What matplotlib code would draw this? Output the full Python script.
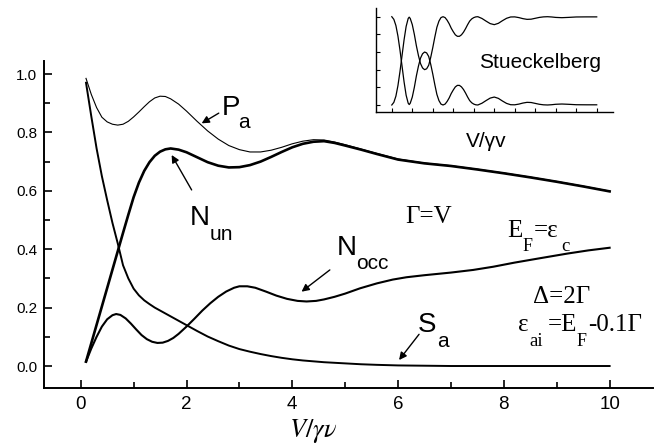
import matplotlib
matplotlib.use('Agg')
import matplotlib.pyplot as plt

plt.rcParams['font.family'] = ['Liberation Sans', 'DejaVu Sans']

# main curves, values
v = [0.1, 0.2, 0.3, 0.4, 0.5, 0.6, 0.7, 0.8, 0.9, 1.0, 1.1, 1.2, 1.3, 1.4, 1.5,
     1.6, 1.7, 1.85, 2.0,
     2.2, 2.4, 2.6, 2.8, 3.0, 3.2, 3.4, 3.6, 3.8, 4.0, 4.2, 4.4, 4.6, 4.8, 5.0,
     5.3, 5.6, 6.0, 6.5, 7.0, 7.5, 8.0, 8.5, 9.0, 9.5, 10.0]
p_a = [0.985, 0.93, 0.885, 0.852, 0.836, 0.828, 0.825, 0.828, 0.838, 0.853, 0.87, 0.888, 0.905, 0.918, 0.924,
       0.923, 0.915, 0.897, 0.873,
       0.838, 0.805, 0.777, 0.755, 0.741, 0.733, 0.733, 0.739, 0.749, 0.761, 0.77, 0.775, 0.774, 0.767, 0.758,
       0.743, 0.728, 0.709, 0.695, 0.686, 0.674, 0.661, 0.647, 0.632, 0.616, 0.599]
n_un = [0.015, 0.078, 0.141, 0.204, 0.267, 0.33, 0.393, 0.456, 0.518, 0.578, 0.628, 0.668, 0.698, 0.72, 0.734,
        0.742, 0.745, 0.741, 0.732,
        0.715, 0.698, 0.686, 0.68, 0.681, 0.688, 0.70, 0.716, 0.733, 0.749, 0.761, 0.768, 0.77, 0.764, 0.755,
        0.741, 0.726, 0.707, 0.694, 0.685, 0.673, 0.66, 0.646, 0.631, 0.615, 0.598]
s_a = [0.97, 0.855, 0.745, 0.65, 0.568, 0.49, 0.42, 0.345, 0.30, 0.265, 0.242, 0.225, 0.212, 0.20, 0.19,
       0.18, 0.17, 0.155, 0.14,
       0.12, 0.101, 0.085, 0.07, 0.058, 0.049, 0.041, 0.034, 0.028, 0.023, 0.019, 0.016, 0.013, 0.011, 0.009,
       0.006, 0.004, 0.002, 0.001, 0.0, 0.0, 0.0, 0.0, 0.0, 0.0, 0.0]

v_occ = [0.1, 0.2, 0.3, 0.4, 0.5, 0.6, 0.67, 0.75, 0.85, 0.95, 1.05, 1.15, 1.25, 1.35, 1.45,
         1.55, 1.65, 1.75, 1.85, 2.0, 2.15, 2.3, 2.45, 2.6, 2.75, 2.9, 3.0, 3.15, 3.3, 3.5,
         3.7, 3.9, 4.1, 4.27, 4.45, 4.6, 4.8, 5.0, 5.28, 5.6, 5.9, 6.16, 6.5, 7.0, 7.42,
         7.8, 8.2, 8.68, 9.2, 9.6, 10.0]
n_occ = [0.015, 0.06, 0.10, 0.135, 0.16, 0.174, 0.178, 0.175, 0.163, 0.145, 0.125, 0.106, 0.092, 0.083, 0.079,
         0.08, 0.086, 0.096, 0.11, 0.135, 0.162, 0.19, 0.215, 0.237, 0.255, 0.268, 0.273, 0.273, 0.268, 0.255,
         0.241, 0.23, 0.223, 0.221, 0.223, 0.228, 0.237, 0.248, 0.266, 0.283, 0.296, 0.304, 0.311, 0.32, 0.329,
         0.34, 0.354, 0.369, 0.385, 0.396, 0.405]

# inset (Stueckelberg oscillations)
v_in = [0, 0.1, 0.2, 0.3, 0.4, 0.5, 0.6, 0.7, 0.8, 0.85, 0.9, 1.0, 1.1, 1.2, 1.3, 1.4, 1.5, 1.6,
        1.7, 1.8, 1.9, 2.0, 2.1, 2.2, 2.3, 2.4, 2.5, 2.6, 2.7, 2.8, 2.9, 3.0, 3.1, 3.2, 3.3, 3.4,
        3.5, 3.6, 3.7, 3.8, 3.9, 4.0, 4.1, 4.2, 4.4, 4.6, 4.8, 5.0, 5.2, 5.4, 5.6, 5.8, 6.0, 6.2,
        6.4, 6.6, 6.8, 7.0, 7.2, 7.4, 7.6, 7.8, 8.0, 8.3, 8.6, 9.0, 9.5, 10.0]
st_a = [1.0, 0.97, 0.9, 0.78, 0.62, 0.44, 0.26, 0.11, 0.02, 0.005, 0.02, 0.09, 0.2, 0.33, 0.44, 0.53, 0.58, 0.6,
        0.59, 0.55, 0.46, 0.35, 0.23, 0.12, 0.05, 0.01, 0.0, 0.01, 0.04, 0.08, 0.13, 0.17, 0.205, 0.222, 0.222, 0.205,
        0.175, 0.135, 0.09, 0.05, 0.025, 0.01, 0.002, 0.0, 0.02, 0.05, 0.078, 0.09, 0.075, 0.045, 0.018, 0.003, 0.002, 0.01,
        0.022, 0.03, 0.028, 0.018, 0.008, 0.002, 0.0, 0.003, 0.008, 0.011, 0.008, 0.003, 0.002, 0.002]
st_b = [0.0, 0.03, 0.1, 0.22, 0.38, 0.56, 0.74, 0.89, 0.98, 0.995, 0.98, 0.91, 0.8, 0.67, 0.56, 0.47, 0.42, 0.4,
        0.41, 0.45, 0.54, 0.65, 0.77, 0.88, 0.95, 0.99, 1.0, 0.99, 0.96, 0.92, 0.87, 0.83, 0.795, 0.778, 0.778, 0.795,
        0.825, 0.865, 0.91, 0.95, 0.975, 0.99, 0.998, 1.0, 0.98, 0.95, 0.922, 0.91, 0.925, 0.955, 0.982, 0.997, 0.998, 0.99,
        0.978, 0.97, 0.972, 0.982, 0.992, 0.998, 1.0, 0.997, 0.992, 0.989, 0.992, 0.997, 0.998, 0.998]

fig = plt.figure(figsize=(6.56, 4.45), dpi=100)
ax = fig.add_axes([0.0671, 0.1281, 0.9283, 0.7348])

ax.plot(v, p_a, color='k', lw=0.8)
ax.plot(v, n_un, color='k', lw=1.9)
ax.plot(v, s_a, color='k', lw=1.4)
ax.plot(v_occ, n_occ, color='k', lw=1.5)

ax.set_xlim(-0.694, 10.82)
ax.set_ylim(-0.0753, 1.0445)
ax.set_xticks([0, 2, 4, 6, 8, 10])
ax.set_xticks([1, 3, 5, 7, 9], minor=True)
ax.set_yticks([0.0, 0.2, 0.4, 0.6, 0.8, 1.0])
ax.set_yticks([0.1, 0.3, 0.5, 0.7, 0.9], minor=True)
ax.set_yticklabels(['0.0', '0.2', '0.4', '0.6', '0.8', '1.0'])
ax.tick_params(which='both', direction='in', width=1.2)
ax.tick_params(which='major', length=6)
ax.tick_params(which='minor', length=4)
ax.tick_params(axis='x', labelsize=13.5, pad=6)
ax.tick_params(axis='y', labelsize=11, pad=5)
for s in ['top', 'right']:
    ax.spines[s].set_visible(False)
for s in ['left', 'bottom']:
    ax.spines[s].set_linewidth(1.4)

fig.text(0.477, 0.018, r'$V/\gamma\nu$', ha='center', va='baseline',
         fontsize=19, math_fontfamily='stix')

# labels of the curves
big = 20
sub = 15
ax.text(2.67, 0.860, 'P', fontsize=big)
ax.text(2.975, 0.815, 'a', fontsize=sub)
ax.text(2.065, 0.483, 'N', fontsize=big)
ax.text(2.443, 0.4315, 'un', fontsize=sub)
ax.text(4.842, 0.380, 'N', fontsize=big)
ax.text(5.20, 0.332, 'occ', fontsize=sub)
ax.text(6.373, 0.1175, 'S', fontsize=big)
ax.text(6.737, 0.066, 'a', fontsize=sub)

arw = dict(arrowstyle='-|>', color='k', lw=1.0, mutation_scale=11, shrinkA=0, shrinkB=0)
ax.annotate('', xy=(2.286, 0.831), xytext=(2.61, 0.866), arrowprops=arw)
ax.annotate('', xy=(1.719, 0.7226), xytext=(2.097, 0.603), arrowprops=arw)
ax.annotate('', xy=(4.175, 0.2545), xytext=(4.71, 0.329), arrowprops=arw)
ax.annotate('', xy=(6.019, 0.0205), xytext=(6.397, 0.1086), arrowprops=arw)

# parameters, serif
ser = dict(family='Liberation Serif')
ax.text(6.13, 0.49, 'Γ=V', fontsize=18, **ser)
ax.text(8.07, 0.442, 'E', fontsize=18, **ser)
ax.text(8.356, 0.394, 'F', fontsize=13, **ser)
ax.text(8.56, 0.442, '=ε', fontsize=18, **ser)
ax.text(9.09, 0.394, 'c', fontsize=13.5, **ser)
ax.text(8.551, 0.2168, 'Δ=2Γ', fontsize=18, **ser)
ax.text(8.268, 0.12, 'ε', fontsize=18, **ser)
ax.text(8.489, 0.0685, 'ai', fontsize=13.5, **ser)
ax.text(8.834, 0.12, '=E', fontsize=18, **ser)
ax.text(9.37, 0.0685, 'F', fontsize=13, **ser)
ax.text(9.59, 0.12, '-0.1Γ', fontsize=18, **ser)

# inset
axi = fig.add_axes([0.5732, 0.749, 0.3608, 0.2323])
axi.plot(v_in, st_a, color='k', lw=0.9)
axi.plot(v_in, st_b, color='k', lw=0.9)
axi.set_xlim(-0.77, 10.78)
axi.set_ylim(-0.076, 1.095)
axi.set_xticks(range(0, 11))
axi.set_yticks([0, 0.2, 0.4, 0.6, 0.8, 1.0])
axi.tick_params(direction='in', length=3, width=0.8, labelbottom=False, labelleft=False)
for s in ['top', 'right']:
    axi.spines[s].set_visible(False)
for s in ['left', 'bottom']:
    axi.spines[s].set_linewidth(1.0)
fig.text(0.7306, 0.8465, 'Stueckelberg', fontsize=15)
fig.text(0.7104, 0.6703, 'V/γv', fontsize=15)

fig.savefig('out.png', dpi=100)
